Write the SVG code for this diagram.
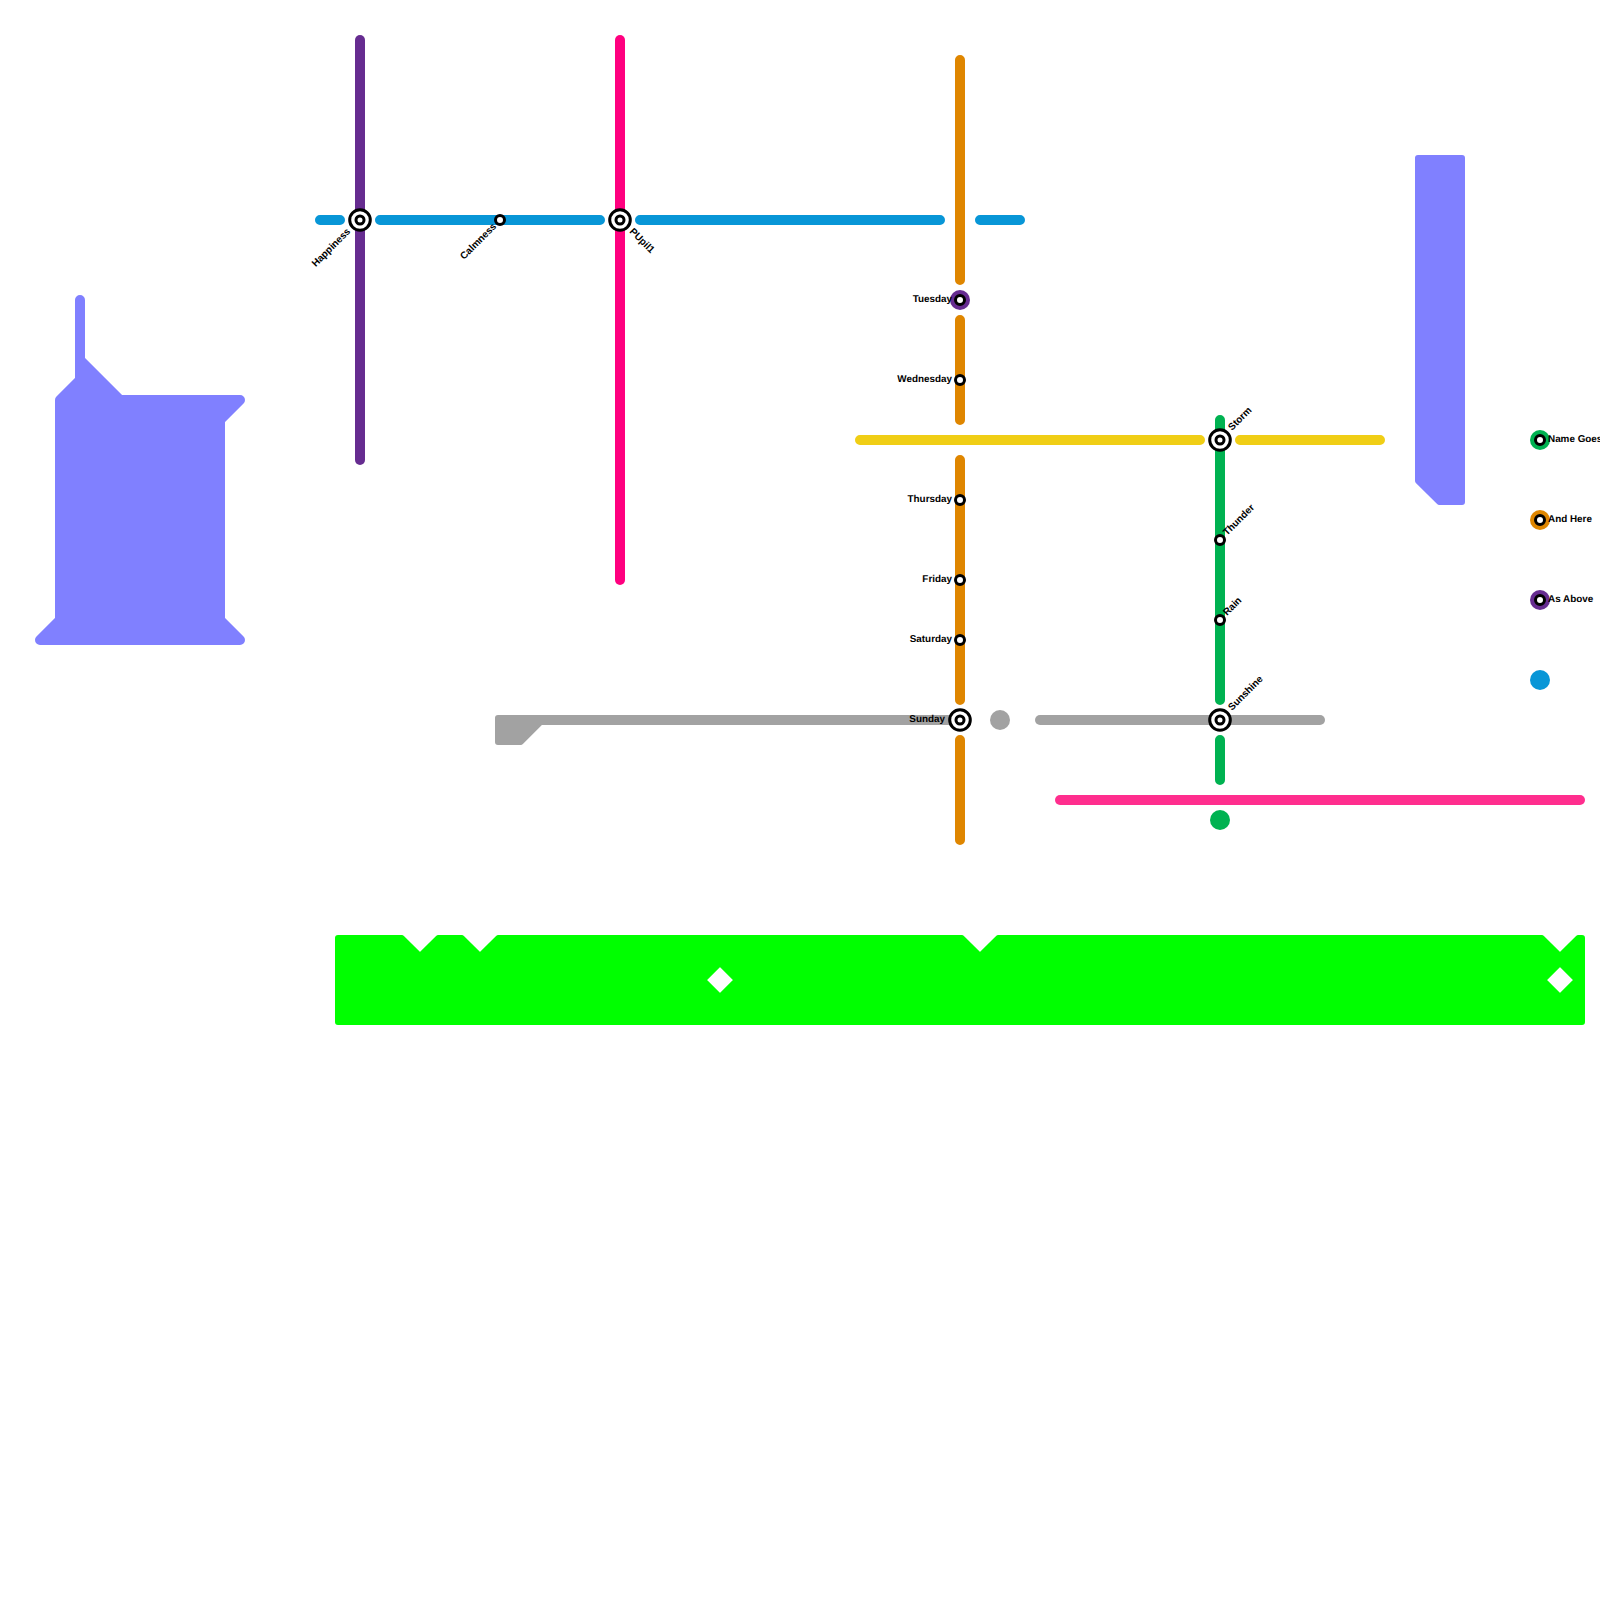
<svg xmlns="http://www.w3.org/2000/svg" width="1600" height="1600" viewBox="0 0 1600 1600">
<style>
.ln{fill:none;stroke-width:10;stroke-linecap:round}
.area{stroke-linejoin:round}
.st{fill:#fff;stroke:#000;stroke-width:3}
.big{fill:#fff;stroke:#000;stroke-width:3}
.t{font-family:"Liberation Sans",Arial,sans-serif;font-size:9.900px;font-weight:700;fill:#000;text-rendering:geometricPrecision}
.e{text-anchor:end}
</style>
<rect width="1600" height="1600" fill="#fff"/>
<g id="areas">
<path class="area" fill="#8080ff" stroke="#8080ff" stroke-width="10" d="M80 300L80 360L120 400L240 400L220 420L220 620L240 640L40 640L60 620L60 400L80 380Z"/>
<path class="area" fill="#8080ff" stroke="#8080ff" stroke-width="6" d="M1418 158H1462V502H1439.240L1418 480.760Z"/>
<path class="area" fill="#00ff00" stroke="#00ff00" stroke-width="6" fill-rule="evenodd" d="M338 938H401.800L420 956.240L438.200 938H461.800L480 956.240L498.200 938H961.800L980 956.240L998.200 938H1541.800L1560 956.240L1578.200 938H1582V1022H338ZM720 963L703 980L720 997L737 980ZM1560 963L1543 980L1560 997L1577 980Z"/>
<path class="area" fill="#a2a2a2" stroke="#a2a2a2" stroke-width="6" d="M498 718H950V722H540.760L520.760 742H498Z"/>
</g>
<g id="connectors">
<path class="ln" stroke="#662c90" d="M360 40V460"/>
<path class="ln" stroke="#ff007f" d="M620 40V580"/>
<path class="ln" stroke="#0896d7" d="M320 220H340M380 220H600M640 220H940M980 220H1020"/>
<path class="ln" stroke="#df8600" d="M960 60V280M960 320V420M960 460V700M960 740V840"/>
<path class="ln" stroke="#f0ce15" d="M860 440H1200M1240 440H1380"/>
<path class="ln" stroke="#a2a2a2" d="M1040 720H1320"/>
<path class="ln" stroke="#00b251" d="M1220 420V700M1220 740V780"/>
<path class="ln" stroke="#ff2e8e" d="M1060 800H1580"/>
</g>
<g id="n-silver-dot"><circle cx="1000" cy="720" r="10" fill="#a2a2a2"/></g>
<g id="n-green-dot"><circle cx="1220" cy="820" r="10" fill="#00b251"/></g>
<g id="n-happiness"><circle class="big" cx="360" cy="220" r="10.300"/><circle class="st" cx="360" cy="220" r="4"/><text class="t e" transform="translate(351 232) rotate(-45)">Happiness</text></g>
<g id="n-calmness"><circle class="st" cx="500" cy="220" r="4.500"/><text class="t e" transform="translate(497 227) rotate(-45)">Calmness</text></g>
<g id="n-pupil"><circle class="big" cx="620" cy="220" r="10.300"/><circle class="st" cx="620" cy="220" r="4"/><text class="t" transform="translate(629 232) rotate(45)">PUpil1</text></g>
<g id="n-tuesday"><circle cx="960" cy="300" r="10" fill="#662c90"/><circle class="st" cx="960" cy="300" r="4.500"/><text class="t e" x="952" y="302.200">Tuesday</text></g>
<g id="n-wednesday"><circle class="st" cx="960" cy="380" r="4.500"/><text class="t e" x="952" y="382.200">Wednesday</text></g>
<g id="n-thursday"><circle class="st" cx="960" cy="500" r="4.500"/><text class="t e" x="952" y="502.200">Thursday</text></g>
<g id="n-friday"><circle class="st" cx="960" cy="580" r="4.500"/><text class="t e" x="952" y="582.200">Friday</text></g>
<g id="n-saturday"><circle class="st" cx="960" cy="640" r="4.500"/><text class="t e" x="952" y="642.200">Saturday</text></g>
<g id="n-sunday"><circle class="big" cx="960" cy="720" r="10.300"/><circle class="st" cx="960" cy="720" r="4"/><text class="t e" x="945" y="722.200">Sunday</text></g>
<g id="n-storm"><circle class="big" cx="1220" cy="440" r="10.300"/><circle class="st" cx="1220" cy="440" r="4"/><text class="t" transform="translate(1232 431) rotate(-45)">Storm</text></g>
<g id="n-thunder"><circle class="st" cx="1220" cy="540" r="4.500"/><text class="t" transform="translate(1227 536) rotate(-45)">Thunder</text></g>
<g id="n-rain"><circle class="st" cx="1220" cy="620" r="4.500"/><text class="t" transform="translate(1227 616) rotate(-45)">Rain</text></g>
<g id="n-sunshine"><circle class="big" cx="1220" cy="720" r="10.300"/><circle class="st" cx="1220" cy="720" r="4"/><text class="t" transform="translate(1232 711) rotate(-45)">Sunshine</text></g>
<g id="n-legend-green"><circle cx="1540" cy="440" r="10" fill="#00b251"/><circle class="st" cx="1540" cy="440" r="4.500"/><text class="t" x="1548" y="442.200">Name Goes</text></g>
<g id="n-legend-orange"><circle cx="1540" cy="520" r="10" fill="#df8600"/><circle class="st" cx="1540" cy="520" r="4.500"/><text class="t" x="1548" y="522.200">And Here</text></g>
<g id="n-legend-purple"><circle cx="1540" cy="600" r="10" fill="#662c90"/><circle class="st" cx="1540" cy="600" r="4.500"/><text class="t" x="1548" y="602.200">As Above</text></g>
<g id="n-legend-blue"><circle cx="1540" cy="680" r="10" fill="#0896d7"/></g>
</svg>
